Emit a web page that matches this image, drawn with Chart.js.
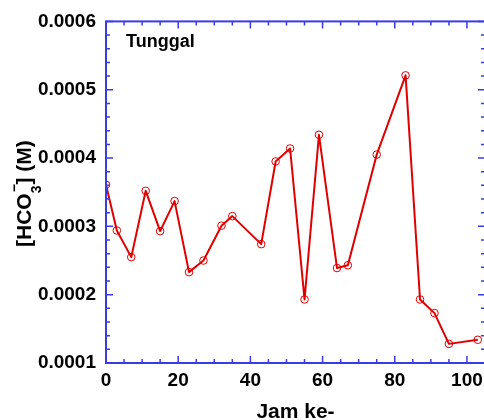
<!DOCTYPE html>
<html>
<head>
<meta charset="utf-8">
<script src="https://cdn.jsdelivr.net/npm/chart.js"></script>
<style>
  html, body { margin: 0; padding: 0; background: #fff; overflow: hidden; }
  #wrap { width: 490px; height: 420px; }
</style>
</head>
<body>
<div id="wrap"><canvas id="chart"></canvas></div>
<script>
// values
const hours = [0, 3, 7, 11, 15, 19, 23, 27, 32, 35, 43, 47, 51, 55, 59, 64, 67, 75, 83, 87, 91, 95, 103];
const hco3 = [0.000361, 0.000294, 0.000255, 0.000352, 0.000293, 0.000337, 0.000233, 0.000250, 0.000301,
              0.000315, 0.000274, 0.000395, 0.000414, 0.000193, 0.000434, 0.000239, 0.000243, 0.000405,
              0.000521, 0.000193, 0.000173, 0.000128, 0.000134];
const seriesName = 'Tunggal';
const xTitle = 'Jam ke-';

const axisBlue = '#3a3ae6';
const red = '#e00000';
const font = 'Liberation Sans, Arial, sans-serif';

// box, inward ticks on all four sides, titles
const framePlugin = {
  id: 'frame',
  afterDraw(chart) {
    const { ctx, chartArea: a, scales: { x, y } } = chart;
    ctx.save();
    ctx.strokeStyle = axisBlue;
    ctx.lineWidth = 2;
    ctx.strokeRect(a.left, a.top, a.right - a.left, a.bottom - a.top);
    ctx.lineWidth = 1.5;
    ctx.beginPath();
    for (let i = 0; i <= 21; i++) {
      const v = i * 5;
      const px = x.getPixelForValue(v);
      const len = v % 20 === 0 ? 7 : 4;
      ctx.moveTo(px, a.bottom); ctx.lineTo(px, a.bottom - len);
      ctx.moveTo(px, a.top); ctx.lineTo(px, a.top + len);
    }
    for (let i = 0; i <= 25; i++) {
      const py = y.getPixelForValue(0.0001 + i * 0.00002);
      const len = i % 5 === 0 ? 7 : 4;
      ctx.moveTo(a.left, py); ctx.lineTo(a.left + len, py);
      ctx.moveTo(a.right, py); ctx.lineTo(a.right - len, py);
    }
    ctx.stroke();

    ctx.fillStyle = '#000';
    ctx.textBaseline = 'alphabetic';
    ctx.textAlign = 'left';
    ctx.font = 'bold 18px ' + font;
    ctx.fillText(seriesName, 126, 47);

    ctx.font = 'bold 21px ' + font;
    ctx.textAlign = 'center';
    ctx.fillText(xTitle, (a.left + a.right) / 2, 418);

    // y title: [HCO3-] (M)
    ctx.translate(31, 247);
    ctx.rotate(-Math.PI / 2);
    ctx.textAlign = 'left';
    let pos = 0;
    ctx.font = 'bold 21px ' + font;
    ctx.fillText('[HCO', pos, 0);
    pos += ctx.measureText('[HCO').width;
    ctx.font = 'bold 14px ' + font;
    ctx.fillText('3', pos, 10);
    ctx.fillText('\u2212', pos + 1, -12);
    pos += ctx.measureText('3').width + 1;
    ctx.font = 'bold 21px ' + font;
    ctx.fillText('] (M)', pos, 0);
    ctx.restore();
  }
};

new Chart(document.getElementById('chart'), {
  type: 'line',
  data: {
    datasets: [{
      label: seriesName,
      data: hours.map((h, i) => ({ x: h, y: hco3[i] })),
      borderColor: red,
      borderWidth: 2,
      borderJoinStyle: 'round',
      tension: 0,
      pointStyle: 'circle',
      pointRadius: 3.8,
      pointBorderWidth: 1,
      pointBorderColor: red,
      pointBackgroundColor: 'rgba(0,0,0,0)'
    }]
  },
  options: {
    responsive: true,
    maintainAspectRatio: false,
    animation: false,
    layout: { padding: { left: 0, top: 20, right: 3, bottom: 0 } },
    plugins: { legend: { display: false }, tooltip: { enabled: false } },
    scales: {
      x: {
        type: 'linear',
        min: 0,
        max: 105,
        grid: { display: false, drawTicks: false },
        border: { display: false },
        ticks: {
          stepSize: 20,
          includeBounds: false,
          maxRotation: 0,
          padding: 6,
          color: '#000',
          font: { family: font, size: 19, weight: 'bold' }
        },
        afterFit: s => { s.height = 57; }
      },
      y: {
        min: 0.0001,
        max: 0.0006,
        grid: { display: false, drawTicks: false },
        border: { display: false },
        ticks: {
          stepSize: 0.0001,
          padding: 10,
          color: '#000',
          font: { family: font, size: 19, weight: 'bold' },
          callback: v => v.toFixed(4)
        },
        afterFit: s => { s.width = 106; }
      }
    }
  },
  plugins: [framePlugin]
});
</script>
</body>
</html>
